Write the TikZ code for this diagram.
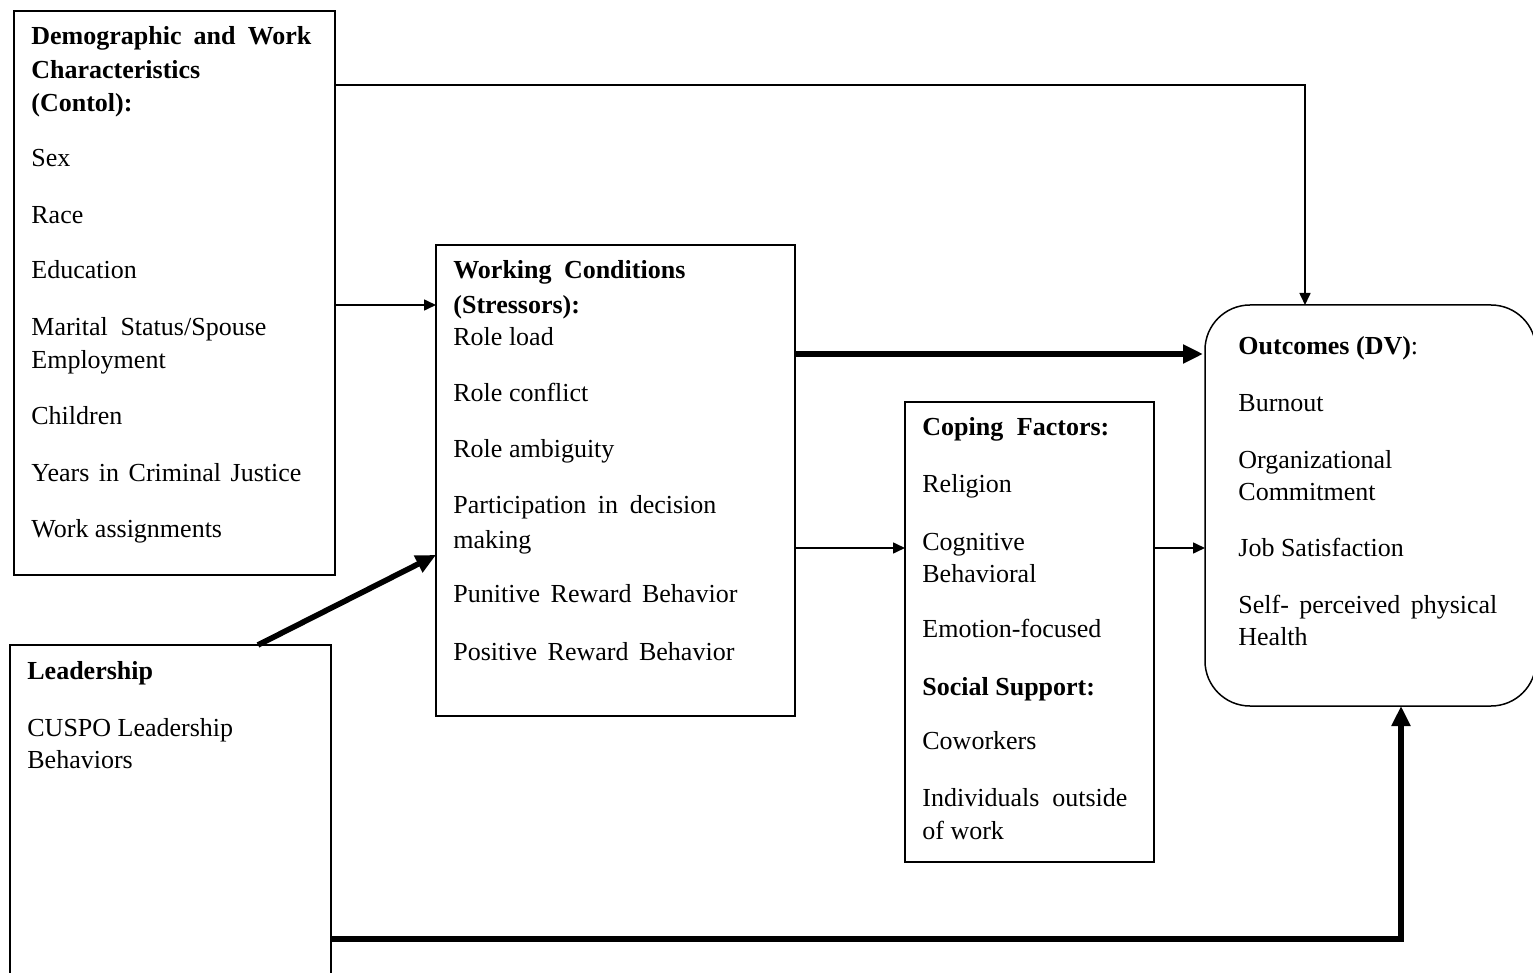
\documentclass[tikz,border=0pt]{standalone}
\usepackage{fontspec}
\setmainfont{Liberation Serif}
\usetikzlibrary{arrows.meta,calc}
\newcommand{\jline}[2]{\makebox[#1][s]{#2}}
\begin{document}
\begin{tikzpicture}[x=0.5pt,y=-0.5pt,
  box/.style={draw,line width=0.75pt,inner sep=0pt,outer sep=0pt,anchor=north west},
  txt/.style={anchor=base west,inner sep=0pt,font=\fontsize{13pt}{16.5pt}\selectfont},
  thinarrow/.style={line width=0.8pt,-{Triangle[length=6pt,width=5.5pt]}},
  thickarrow/.style={line width=2.8pt,-{Triangle[length=10pt,width=9pt]}}]
\useasboundingbox (0,0) rectangle (1533,973);
\clip (0,0) rectangle (1533,973);
% boxes
\node[box,minimum width=160.5pt,minimum height=282pt] (demo) at (14,11) {};
\node[box,minimum width=160.5pt,minimum height=172.5pt] (lead) at (10,645) {};
\node[box,minimum width=179.5pt,minimum height=235.5pt] (work) at (436,245) {};
\node[box,minimum width=124.5pt,minimum height=230pt] (coping) at (905,402) {};
\node[box,rounded corners=22.5pt,minimum width=165.5pt,minimum height=200.5pt] (out) at (1205,305) {};
% demographic text
\node[txt] (d1) at (31,45) {\bfseries\jline{140pt}{Demographic and Work}};
\node[txt] (d2) at (31,79) {\bfseries Characteristics};
\node[txt] (d3) at (31,112) {\bfseries (Contol):};
\node[txt] (d4) at (31,167) {Sex};
\node[txt] (d5) at (31,224) {Race};
\node[txt] (d6) at (31,279) {Education};
\node[txt] (d7) at (31,336) {\jline{117.5pt}{Marital Status/Spouse}};
\node[txt] (d8) at (31,369) {Employment};
\node[txt] (d9) at (31,425) {Children};
\node[txt] (d10) at (31,481) {\jline{135pt}{Years in Criminal Justice}};
\node[txt] (d11) at (31,538) {Work assignments};
% leadership text
\node[txt] (l1) at (27,679) {\bfseries Leadership};
\node[txt] (l2) at (27,736) {CUSPO Leadership};
\node[txt] (l3) at (27,768) {Behaviors};
% working conditions text
\node[txt] (w1) at (453,279) {\bfseries\jline{116pt}{Working Conditions}};
\node[txt] (w2) at (453,314) {\bfseries (Stressors):};
\node[txt] (w3) at (453,346) {Role load};
\node[txt] (w4) at (453,401) {Role conflict};
\node[txt] (w5) at (453,458) {Role ambiguity};
\node[txt] (w6) at (453,514) {\jline{131.5pt}{Participation in decision}};
\node[txt] (w7) at (453,548) {making};
\node[txt] (w8) at (453,603) {\jline{142pt}{Punitive Reward Behavior}};
\node[txt] (w9) at (453,660) {\jline{140.5pt}{Positive Reward Behavior}};
% coping text
\node[txt] (c1) at (922,436) {\bfseries\jline{93.5pt}{Coping Factors:}};
\node[txt] (c2) at (922,493) {Religion};
\node[txt] (c3) at (922,550) {Cognitive};
\node[txt] (c4) at (922,582) {Behavioral};
\node[txt] (c5) at (922,637) {Emotion-focused};
\node[txt] (c6) at (922,695) {\bfseries Social Support:};
\node[txt] (c7) at (922,749) {Coworkers};
\node[txt] (c8) at (922,806) {\jline{102.5pt}{Individuals outside}};
\node[txt] (c9) at (922,839) {of work};
% outcomes text
\node[txt] (o1) at (1238,355) {\textbf{Outcomes (DV)}:};
\node[txt] (o2) at (1238,412) {Burnout};
\node[txt] (o3) at (1238,469) {Organizational};
\node[txt] (o4) at (1238,501) {Commitment};
\node[txt] (o5) at (1238,556) {Job Satisfaction};
\node[txt] (o6) at (1238,613) {\jline{129.5pt}{Self- perceived physical}};
\node[txt] (o7) at (1238,645) {Health};
% connectors
\draw[thinarrow] ($(demo.north east)+(0,74)$) -| ($(out.north west)+(100,0)$);
\draw[thinarrow] ($(demo.north east)+(0,294)$) -- ($(work.north west)+(0,60)$);
\draw[thickarrow] ($(work.north east)+(0,109)$) -- ($(out.north west)+(-2,49)$);
\draw[thinarrow] ($(work.north east)+(0,303)$) -- ($(coping.north west)+(0,146)$);
\draw[thinarrow] ($(coping.north east)+(0,146)$) -- ($(out.north west)+(0,243)$);
\draw[thickarrow] ($(lead.north west)+(248,0)$) -- ($(work.north west)+(0,310)$);
\draw[thickarrow] ($(lead.north east)+(0,294)$) -| ($(out.south west)+(196,0)$);
\end{tikzpicture}
\end{document}
